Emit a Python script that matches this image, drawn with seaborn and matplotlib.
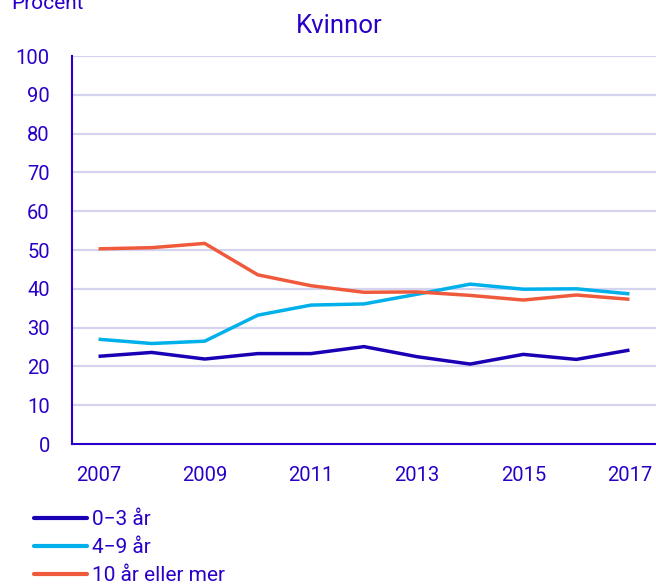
import numpy as np
import pandas as pd
import seaborn as sns
import matplotlib.pyplot as plt
from matplotlib.ticker import FixedLocator

YEARS = list(range(2007, 2018))
GROUP_0_3 = [22.6, 23.6, 21.9, 23.3, 23.3, 25.1, 22.5, 20.6, 23.1, 21.8, 24.2]
GROUP_4_9 = [27.0, 25.9, 26.5, 33.2, 35.8, 36.1, 38.6, 41.2, 39.9, 40.0, 38.7]
GROUP_10 = [50.3, 50.6, 51.7, 43.6, 40.8, 39.1, 39.2, 38.3, 37.1, 38.4, 37.3]
LABELS = ["0\u22123 år", "4\u22129 år", "10 år eller mer"]
COLORS = ["#1a00b4", "#00b0ea", "#f05a3c"]
TEXT = "#2a00c8"

df = pd.DataFrame({"year": YEARS, LABELS[0]: GROUP_0_3,
                   LABELS[1]: GROUP_4_9, LABELS[2]: GROUP_10})
df_melted = pd.melt(df, id_vars=["year"], value_vars=LABELS,
                    var_name="grupp", value_name="procent")

sns.set_style("white")
plt.rcParams["font.family"] = ["Roboto", "DejaVu Sans"]
plt.rcParams["font.size"] = 14.5

fig = plt.figure(figsize=(6.56, 5.84), dpi=100)
ax = fig.add_axes([72 / 656, 1 - 444 / 584, 1 - 72 / 656, (444 - 56) / 584])

sns.lineplot(data=df_melted, x="year", y="procent", hue="grupp",
             palette=COLORS, linewidth=2.5, ax=ax, legend=False,
             solid_capstyle="butt")

ax.set_xlim(2006.5, 2017.5)
ax.set_ylim(0, 100)
ax.set_xlabel("")
ax.set_ylabel("")

ax.set_yticks(range(0, 101, 10))
ax.set_xticks(range(2007, 2018, 2))
ax.xaxis.set_minor_locator(FixedLocator(np.arange(2006.5, 2017.6, 1)))
ax.tick_params(axis="x", which="major", length=0, pad=16, labelcolor=TEXT, labelsize=14.5)
ax.tick_params(axis="x", which="minor", length=7, width=1.5, color=TEXT, direction="out")
ax.tick_params(axis="y", length=7, width=1.5, color=TEXT, labelcolor=TEXT,
               labelsize=14.5, pad=9, direction="out")

for y in range(10, 101, 10):
    ax.axhline(y, color="#d4d4f0", linewidth=1.6, zorder=0)

for side in ["top", "right"]:
    ax.spines[side].set_visible(False)
for side in ["left", "bottom"]:
    ax.spines[side].set_color(TEXT)
    ax.spines[side].set_linewidth(1.5)

fig.text(339 / 656, 1 - 33 / 584, "Kvinnor", ha="center", va="baseline",
         color=TEXT, fontsize=18.5)
fig.text(11 / 656, 1 - 9 / 584, "Procent", ha="left", va="baseline",
         color=TEXT, fontsize=15)

handles = [plt.Line2D([], [], color=c, linewidth=3) for c in COLORS]
fig.legend(handles, LABELS, loc="upper left", bbox_to_anchor=(26 / 656, 1 - 502 / 584),
           frameon=False, handlelength=2.55, handletextpad=0.2, labelspacing=0.42,
           labelcolor=TEXT, fontsize=15, borderaxespad=0)

fig.savefig("out.png", dpi=100)
